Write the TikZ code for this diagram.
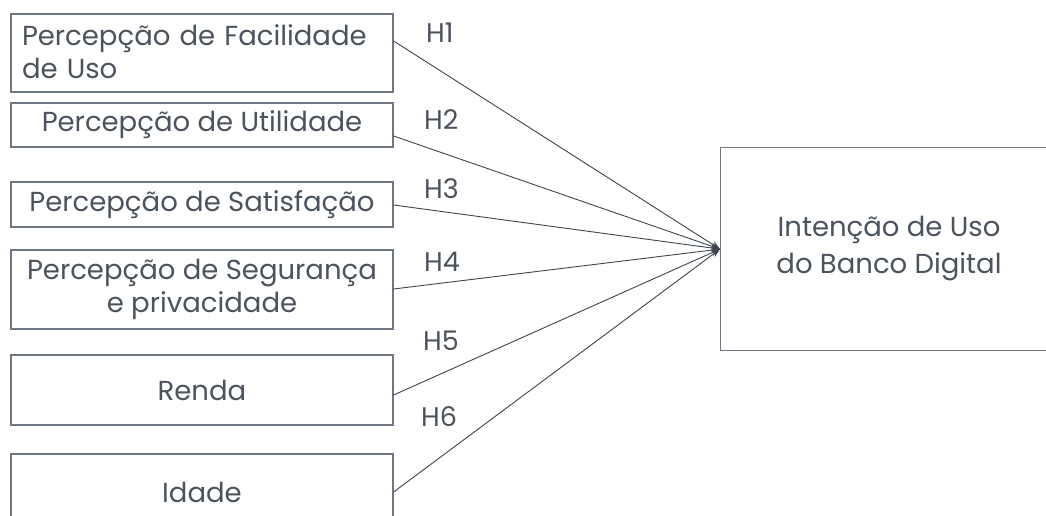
\documentclass[tikz,border=0pt]{standalone}
\usepackage{fontspec}
\setmainfont{Poppins}
\usetikzlibrary{arrows.meta}
\definecolor{boxc}{HTML}{6E7781}
\definecolor{linec}{HTML}{3C4550}
\definecolor{textc}{HTML}{4B535D}
\tikzset{
  varbox/.style={draw=boxc, line width=1.2pt, minimum width=382pt, inner sep=0pt, text=textc,
    font=\fontsize{27.5}{32.5}\selectfont, align=center},
  hyp/.style={draw=linec, line width=0.9pt, -{Stealth[length=9pt,width=6.5pt]}},
  hlabel/.style={text=textc, font=\fontsize{27}{30}\selectfont, inner sep=0pt, anchor=base west},
}
\begin{document}
\begin{tikzpicture}[x=1pt,y=-1pt]
\useasboundingbox (0,0) rectangle (1046,516);
\clip (0,0) rectangle (1046,516);
\fill[white] (0,0) rectangle (1046,516);
% variable boxes
\node[varbox, minimum height=78pt, align=left, text width=360pt] (b1) at (202,53) {Percepção de Facilidade\\de Uso\vspace{3pt}};
\node[varbox, minimum height=44pt] (b2) at (202,125) {Percepção de Utilidade};
\node[varbox, minimum height=45pt] (b3) at (202,204.5) {Percepção de Satisfação};
\node[varbox, minimum height=79pt] (b4) at (202,289.5) {Percepção de Segurança\\e privacidade};
\node[varbox, minimum height=70pt] (b5) at (202,390) {Renda};
\node[varbox, minimum height=76pt] (b6) at (202,492) {Idade};
% target box
\node[draw=boxc, line width=1.2pt, minimum width=360pt, minimum height=203pt, inner sep=0pt, anchor=north west] (t) at (720,147) {};
\node[text=textc, font=\fontsize{27.5}{37}\selectfont, align=center, inner sep=0pt] (tl) at (889,249) {Intenção de Uso\\do Banco Digital};
% connectors
\draw[hyp] ([yshift=12pt]b1.east) -- (t.west);
\draw[hyp] ([yshift=-11pt]b2.east) -- (t.west);
\draw[hyp] ([yshift=-0.5pt]b3.east) -- (t.west);
\draw[hyp] ([yshift=0.5pt]b4.east) -- (t.west);
\draw[hyp] ([yshift=-5pt]b5.east) -- (t.west);
\draw[hyp] (b6.east) -- (t.west);
% labels
\node[hlabel] (h1) at (426,43) {H1};
\node[hlabel] (h2) at (424,130) {H2};
\node[hlabel] (h3) at (424,198) {H3};
\node[hlabel] (h4) at (424,271) {H4};
\node[hlabel] (h5) at (423,350) {H5};
\node[hlabel] (h6) at (421,426) {H6};
\end{tikzpicture}
\end{document}
